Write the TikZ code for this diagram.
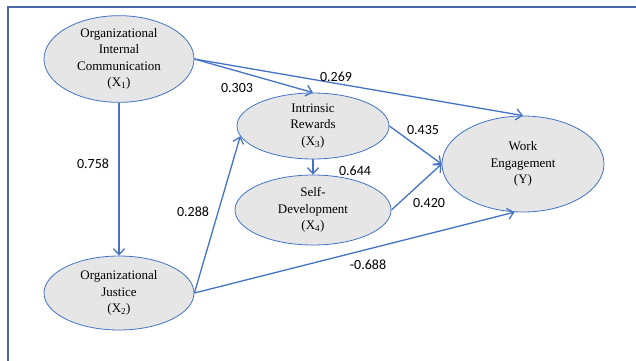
\documentclass[tikz,border=0pt]{standalone}
\usepackage{fontspec}
\setmainfont{Liberation Serif}
\newfontfamily\labfont{Carlito}
\usetikzlibrary{shapes.geometric,arrows.meta}
\definecolor{arrowblue}{HTML}{4472C4}
\definecolor{frameblue}{HTML}{4A68A8}
\definecolor{ellfill}{HTML}{E6E6E6}
\tikzset{
  var/.style={ellipse, draw=arrowblue, line width=0.8pt, fill=ellfill, inner sep=0pt,
    align=center, font=\fontsize{13}{16.5}\selectfont},
  path/.style={draw=arrowblue, line width=1.3pt, -{Straight Barb[length=6pt,width=11pt,line width=1.3pt]}},
  coef/.style={font=\labfont\fontsize{14}{16}\selectfont, inner sep=0pt}
}
\begin{document}
\begin{tikzpicture}[x=1pt,y=-1pt]
\useasboundingbox (0,0) rectangle (636,360);
\draw[frameblue, line width=2pt] (8,361) -- (8,7) -- (637,7);
\node[var, minimum width=150, minimum height=78] (X1) at (119,59) {Organizational\\Internal\\Communication\\(X\textsubscript{1})};
\node[var, minimum width=150, minimum height=74] (X2) at (119,293) {Organizational\\Justice\\(X\textsubscript{2})};
\node[var, minimum width=152, minimum height=66] (X3) at (313,126) {Intrinsic\\Rewards\\(X\textsubscript{3})};
\node[var, minimum width=156, minimum height=70] (X4) at (313,210) {Self-\\Development\\(X\textsubscript{4})};
\node[var, minimum width=162, minimum height=96] (Y) at (523,164) {Work\\Engagement\\(Y)};
\draw[path] (X1.south) -- (X2.north);
\draw[path] (X1.east) -- (X3.north);
\draw[path] (X1.east) -- (Y.north);
\draw[path] (X2.east) -- (X3.188);
\draw[path] (X2.east) -- (Y.-100);
\draw[path] (X3.south) -- (X4.north);
\draw[path] (X3.east) -- (Y.west);
\draw[path] (X4.east) -- (Y.west);
\node[coef] (c1) at (336,77) {0.269};
\node[coef] (c2) at (237,88) {0.303};
\node[coef] (c3) at (93,164) {0.758};
\node[coef] (c4) at (193,212) {0.288};
\node[coef] (c5) at (423,130) {0.435};
\node[coef] (c6) at (355,171) {0.644};
\node[coef] (c7) at (429,203) {0.420};
\node[coef] (c8) at (368,265) {-0.688};
\end{tikzpicture}
\end{document}
